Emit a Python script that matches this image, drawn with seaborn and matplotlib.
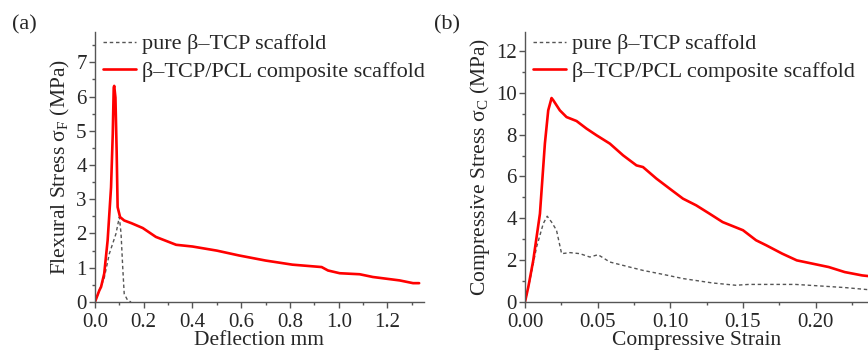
import numpy as np
import pandas as pd
import matplotlib
matplotlib.use("Agg")
import matplotlib.pyplot as plt
import seaborn as sns
from matplotlib.ticker import MultipleLocator

# ---- Panel (a): flexural test ----
a_comp_x = [0.0, 0.018, 0.025, 0.038, 0.052, 0.066, 0.073, 0.077, 0.079, 0.084, 0.089, 0.093,
            0.103, 0.12, 0.15, 0.196, 0.25, 0.333, 0.40, 0.50, 0.59, 0.70, 0.81, 0.93, 0.956,
            1.004, 1.086, 1.14, 1.25, 1.305, 1.33]
a_comp_y = [0.0, 0.34, 0.44, 0.83, 1.8, 3.35, 4.9, 6.26, 6.31, 5.97, 4.4, 2.77,
            2.48, 2.38, 2.3, 2.16, 1.9, 1.67, 1.62, 1.5, 1.36, 1.21, 1.09, 1.02, 0.92,
            0.84, 0.81, 0.73, 0.63, 0.55, 0.55]
a_pure_x = [0.0, 0.018, 0.038, 0.059, 0.086, 0.1, 0.107, 0.114, 0.12, 0.134, 0.148]
a_pure_y = [0.0, 0.34, 0.7, 1.41, 1.99, 2.48, 2.0, 1.0, 0.24, 0.05, 0.0]

# ---- Panel (b): compressive test ----
b_comp_x = [0.0, 0.0023, 0.0057, 0.0103, 0.0137, 0.016, 0.0183, 0.0195, 0.024, 0.0286, 0.0355,
            0.0423, 0.0492, 0.0584, 0.0675, 0.0767, 0.0812, 0.0904, 0.0995, 0.1087, 0.1178,
            0.127, 0.136, 0.15, 0.159, 0.166, 0.177, 0.187, 0.198, 0.209, 0.22, 0.232, 0.236]
b_comp_y = [0.0, 0.72, 1.99, 4.22, 7.57, 9.16, 9.75, 9.64, 9.16, 8.84, 8.65,
            8.29, 7.97, 7.57, 7.01, 6.53, 6.45, 5.9, 5.42, 4.94, 4.62,
            4.22, 3.82, 3.43, 2.95, 2.71, 2.31, 1.99, 1.83, 1.67, 1.43, 1.27, 1.24]
b_pure_x = [0.0, 0.0034, 0.008, 0.0126, 0.0153, 0.0183, 0.0217, 0.0252, 0.031, 0.0378, 0.0446,
            0.0503, 0.0584, 0.072, 0.0812, 0.095, 0.1087, 0.129, 0.145, 0.154, 0.175, 0.186,
            0.2, 0.22, 0.236]
b_pure_y = [0.0, 1.04, 2.63, 3.75, 4.1, 3.82, 3.43, 2.31, 2.36, 2.31, 2.15,
            2.26, 1.91, 1.67, 1.51, 1.32, 1.12, 0.91, 0.8, 0.84, 0.84, 0.84,
            0.78, 0.69, 0.59]

label_pure = "pure β–TCP scaffold"
label_comp = "β–TCP/PCL composite scaffold"

sns.set_theme(style="ticks")
plt.rcParams['font.family'] = ['Liberation Serif', 'DejaVu Serif']
plt.rcParams['mathtext.fontset'] = 'custom'
plt.rcParams['mathtext.rm'] = 'Liberation Serif'

fig = plt.figure(figsize=(8.68, 3.53), dpi=100)
axA = fig.add_axes([0.1094, 0.1445, 0.3791, 0.7645])
axB = fig.add_axes([0.6048, 0.1445, 0.3952, 0.7645])

spine_col = '#555555'

def draw(ax, px, py, cx, cy):
    sns.lineplot(x=px, y=py, ax=ax, color='#555555', lw=1.0, linestyle=(0, (2.5, 2)),
                 label=label_pure, sort=False, estimator=None)
    sns.lineplot(x=cx, y=cy, ax=ax, color='#ff0000', lw=1.9,
                 label=label_comp, sort=False, estimator=None)
    sns.despine(ax=ax)
    for s in ['left', 'bottom']:
        ax.spines[s].set_color(spine_col)
        ax.spines[s].set_linewidth(1.0)
    ax.tick_params(axis='both', which='major', direction='out', length=4, width=1,
                   color=spine_col, labelsize=15, pad=2)
    ax.tick_params(axis='x', which='major', pad=4)
    ax.tick_params(axis='both', which='minor', direction='out', length=2.5, width=1,
                   color=spine_col)
    ax.legend(loc='upper left', frameon=False, fontsize=16, handlelength=1.45,
              handletextpad=0.3, borderaxespad=0.1, labelspacing=0.3,
              bbox_to_anchor=(-0.008, 1.035))

draw(axA, a_pure_x, a_pure_y, a_comp_x, a_comp_y)
axA.set_xlim(0, 1.35)
axA.set_ylim(0, 7.88)
axA.xaxis.set_major_locator(MultipleLocator(0.2))
axA.xaxis.set_minor_locator(MultipleLocator(0.1))
axA.yaxis.set_major_locator(MultipleLocator(1))
axA.yaxis.set_minor_locator(MultipleLocator(0.5))
axA.set_xlabel("Deflection mm", fontsize=15.5, labelpad=-1)
axA.set_ylabel(r"Flexural Stress σ$_\mathregular{F}$ (MPa)", fontsize=15.5, labelpad=3)

draw(axB, b_pure_x, b_pure_y, b_comp_x, b_comp_y)
axB.set_xlim(0, 0.236)
axB.set_ylim(0, 12.9)
axB.xaxis.set_major_locator(MultipleLocator(0.05))
axB.xaxis.set_minor_locator(MultipleLocator(0.025))
axB.yaxis.set_major_locator(MultipleLocator(2))
axB.yaxis.set_minor_locator(MultipleLocator(1))
axB.xaxis.set_major_formatter(matplotlib.ticker.FormatStrFormatter('%.2f'))
axB.set_xlabel("Compressive Strain", fontsize=15.5, labelpad=-1)
axB.set_ylabel(r"Compressive Stress σ$_\mathregular{C}$ (MPa)", fontsize=15.5, labelpad=3)

fig.text(0.014, 0.93, "(a)", fontsize=16, ha='left', va='center')
fig.text(0.5, 0.93, "(b)", fontsize=16, ha='left', va='center')

fig.savefig("out.png", dpi=100)
